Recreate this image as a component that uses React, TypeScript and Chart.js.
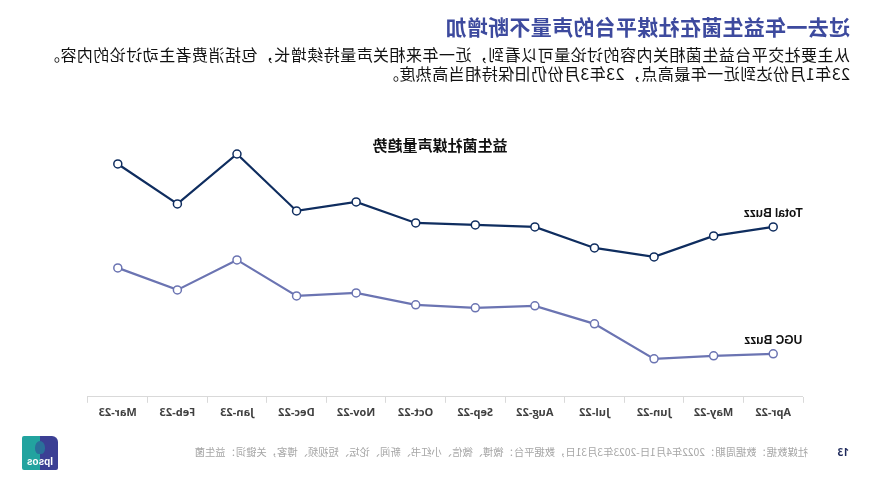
import React, { useEffect, useRef } from "react";
import { Chart, registerables } from "chart.js";

Chart.register(...registerables);

const categories = ["Apr-22", "May-22", "Jun-22", "Jul-22", "Aug-22", "Sep-22", "Oct-22", "Nov-22", "Dec-22", "Jan-23", "Feb-23", "Mar-23"];
const totalBuzz = [170, 161, 140, 149, 170, 172, 174, 195, 186, 243, 193, 233];
const ugcBuzz = [43, 41, 38, 73, 91, 89, 92, 104, 101, 137, 107, 129];
const seriesNames = ["Total Buzz", "UGC Buzz"];

const pageTitle = "过去一年益生菌在社媒平台的声量不断增加";
const subtitleLines = [
  "从主要社交平台益生菌相关内容的讨论量可以看到，近一年来相关声量持续增长，包括消费者主动讨论的内容。",
  "23年1月份达到近一年最高点，23年3月份仍旧保持相当高热度。",
];
const chartTitle = "益生菌社媒声量趋势";
const sourceText = "社媒数据：数据周期：2022年4月1日-2023年3月31日，数据平台：微博、微信、小红书、新闻、论坛、短视频、博客，关键词：益生菌";
const pageNumber = "13";

const TOTAL_COLOR = "#0f2d5f";
const UGC_COLOR = "#6b74b2";

const seriesLabelPlugin = {
  id: "seriesLabels",
  afterDatasetsDraw(chart: any) {
    const ctx = chart.ctx;
    ctx.save();
    ctx.font = "bold 12px 'Liberation Sans', Arial, sans-serif";
    ctx.fillStyle = "#111111";
    ctx.textAlign = "center";
    ctx.textBaseline = "middle";
    chart.data.datasets.forEach((ds: any, i: number) => {
      const meta = chart.getDatasetMeta(i);
      const pt = meta.data[0];
      if (!pt) return;
      ctx.fillText(ds.label, pt.x, pt.y - 13);
    });
    ctx.restore();
  },
};

function LineChart() {
  const ref = useRef<HTMLCanvasElement | null>(null);
  useEffect(() => {
    if (!ref.current) return;
    const chart = new Chart(ref.current, {
      type: "line",
      data: {
        labels: categories,
        datasets: [
          {
            label: seriesNames[0],
            data: totalBuzz,
            borderColor: TOTAL_COLOR,
            backgroundColor: "#ffffff",
            pointBackgroundColor: "#ffffff",
            pointBorderColor: TOTAL_COLOR,
            pointBorderWidth: 1.5,
            pointRadius: 4,
            borderWidth: 2.2,
            tension: 0,
          },
          {
            label: seriesNames[1],
            data: ugcBuzz,
            borderColor: UGC_COLOR,
            backgroundColor: "#ffffff",
            pointBackgroundColor: "#ffffff",
            pointBorderColor: UGC_COLOR,
            pointBorderWidth: 1.5,
            pointRadius: 4,
            borderWidth: 2.2,
            tension: 0,
          },
        ],
      },
      options: {
        responsive: false,
        animation: false,
        layout: { padding: { left: 68, right: 88, top: 137, bottom: 57 } },
        plugins: {
          legend: { display: false },
          title: { display: false },
          tooltip: { enabled: false },
        },
        scales: {
          x: {
            offset: true,
            grid: {
              display: true,
              offset: true,
              drawOnChartArea: false,
              drawTicks: true,
              tickLength: 6,
              color: "#d9d9d9",
            },
            border: { display: true, color: "#d9d9d9", width: 1 },
            ticks: {
              color: "#404040",
              padding: 3,
              maxRotation: 0,
              autoSkip: false,
              font: { family: "'Open Sans', sans-serif", size: 11, weight: "bold" },
            },
          },
          y: {
            display: false,
            min: 0,
            max: 260,
          },
        },
      },
      plugins: [seriesLabelPlugin],
    });
    return () => chart.destroy();
  }, []);
  return (
    <canvas
      ref={ref}
      width={871}
      height={479}
      style={{ position: "absolute", left: 0, top: 0, width: 871, height: 479 }}
    />
  );
}

export default function App() {
  const cjk = "'Noto Sans CJK SC', 'Noto Sans', sans-serif";
  return (
    <div
      style={{
        position: "fixed",
        left: 0,
        top: 0,
        width: 871,
        height: 479,
        background: "#ffffff",
        overflow: "hidden",
        transform: "scaleX(-1)",
        fontFamily: cjk,
      }}
    >
      <LineChart />
      <div
        style={{
          position: "absolute",
          left: 21,
          top: 16,
          fontSize: 21,
          lineHeight: "21px",
          fontWeight: 700,
          letterSpacing: 0.3,
          color: "#3d4a9e",
          whiteSpace: "nowrap",
        }}
      >
        {pageTitle}
      </div>
      <div
        style={{
          position: "absolute",
          left: 21,
          top: 44.5,
          fontSize: 16,
          lineHeight: "19px",
          letterSpacing: 0.46,
          color: "#111111",
          whiteSpace: "nowrap",
        }}
      >
        {subtitleLines.map((l, i) => (
          <div key={i}>{l}</div>
        ))}
      </div>
      <div
        style={{
          position: "absolute",
          left: 331,
          width: 200,
          top: 136,
          textAlign: "center",
          fontSize: 15,
          lineHeight: "18px",
          fontWeight: 700,
          color: "#111111",
          whiteSpace: "nowrap",
        }}
      >
        {chartTitle}
      </div>
      <div
        style={{
          position: "absolute",
          left: 22,
          top: 445,
          fontSize: 10,
          lineHeight: "14px",
          fontWeight: 700,
          color: "#1f2a5c",
          fontFamily: "'Open Sans', sans-serif",
        }}
      >
        {pageNumber}
      </div>
      <div
        style={{
          position: "absolute",
          left: 63,
          top: 445,
          fontSize: 10.3,
          lineHeight: "14px",
          color: "#a6a6a6",
          whiteSpace: "nowrap",
        }}
      >
        {sourceText}
      </div>
      <div
        style={{
          position: "absolute",
          left: 813,
          top: 436,
          width: 36,
          height: 34,
          overflow: "hidden",
          borderRadius: "6px 2px 2px 2px",
          background: "linear-gradient(to right, #3b3f94 0%, #3b3f94 50%, #22a39f 50%, #22a39f 100%)",
        }}
      >
        <div
          style={{
            position: "absolute",
            left: 13,
            top: 5,
            width: 10,
            height: 13,
            borderRadius: "50% 50% 40% 40%",
            background: "#2a6f9a",
          }}
        />
        <div
          style={{
            position: "absolute",
            left: 0,
            width: 36,
            bottom: 2,
            textAlign: "center",
            fontSize: 10,
            lineHeight: "12px",
            fontWeight: 700,
            color: "#ffffff",
            fontFamily: "'Liberation Sans', Arial, sans-serif",
          }}
        >
          Ipsos
        </div>
      </div>
    </div>
  );
}
